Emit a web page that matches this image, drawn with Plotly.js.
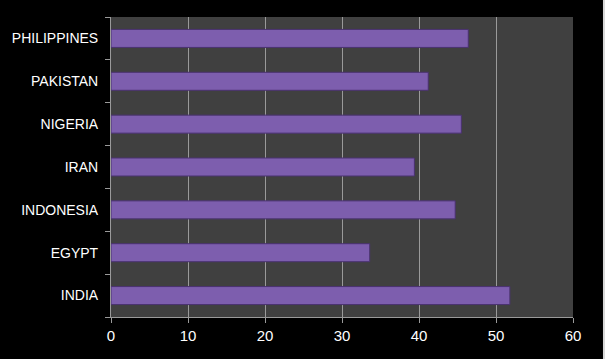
<!DOCTYPE html>
<html><head><meta charset="utf-8">
<script src="https://cdn.plot.ly/plotly-3.0.1.min.js"></script>
<style>html,body{margin:0;padding:0;background:#000;}#c{width:605px;height:359px;}</style>
</head><body><div id="c"></div>
<script>
const categories = ["INDIA","EGYPT","INDONESIA","IRAN","NIGERIA","PAKISTAN","PHILIPPINES"];
const values = [51.8, 33.6, 44.7, 39.4, 45.5, 41.2, 46.4];
const xTicks = [0,10,20,30,40,50,60];

Plotly.newPlot('c', [{
  type: 'bar', orientation: 'h',
  y: categories, x: values,
  width: 0.42,
  marker: {color: '#7d5eae', line: {color: '#4a3270', width: 1}},
  hoverinfo: 'none'
}], {
  width: 605, height: 359,
  margin: {l: 111, r: 32, t: 17, b: 42},
  paper_bgcolor: '#000000', plot_bgcolor: '#404040',
  font: {family: 'Liberation Sans Narrow, Arial Narrow, Liberation Sans, sans-serif', size: 14, color: '#ffffff'},
  showlegend: false,
  shapes: [{type: 'rect', xref: 'paper', yref: 'paper', x0: 1.0649, x1: 1.09, y0: -0.2, y1: 1.1,
            fillcolor: '#d8d8d8', line: {width: 0}, layer: 'above'}],
  xaxis: {range: [0, 60], tickvals: xTicks, showgrid: true, gridcolor: '#9a9a9a', gridwidth: 1,
          zeroline: false, showline: true, linecolor: '#9a9a9a', ticks: 'outside', ticklen: 5, tickcolor: '#9a9a9a',
          tickfont: {size: 15, color: '#ffffff'}, fixedrange: true},
  yaxis: {type: 'category', showgrid: false, zeroline: false, showline: true, linecolor: '#9a9a9a',
          ticks: 'outside', tickson: 'boundaries', ticklen: 5, tickcolor: '#9a9a9a',
          tickfont: {size: 14, color: '#ffffff'}, ticklabelstandoff: 9, fixedrange: true}
}, {displayModeBar: false, staticPlot: true});
</script></body></html>
